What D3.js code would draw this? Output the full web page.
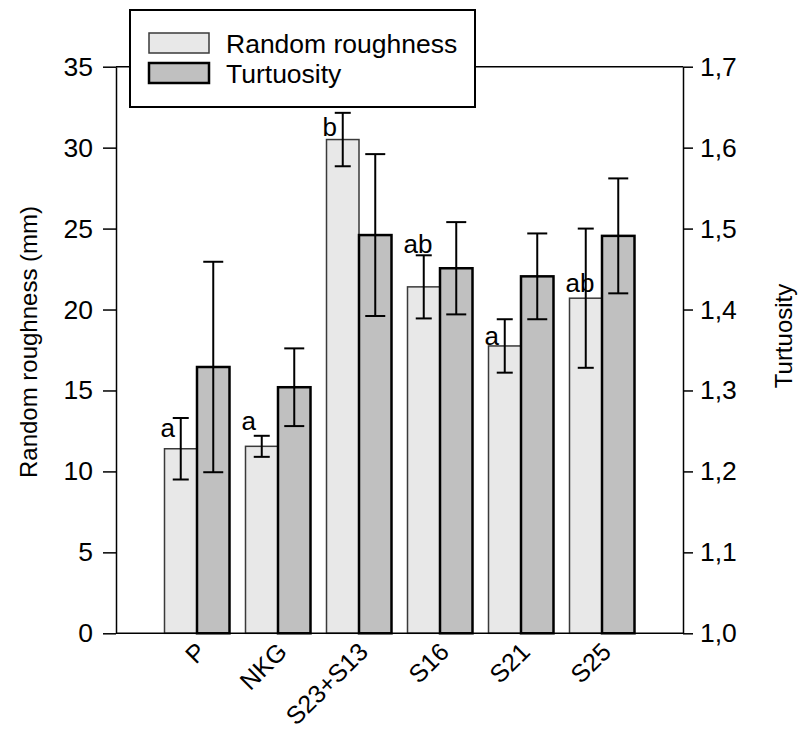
<!DOCTYPE html>
<html lang="en">
<head>
  <meta charset="UTF-8" />
  <title>Random roughness and turtuosity</title>
  <style>
    html, body { margin: 0; padding: 0; background: #fff; }
    svg { font-family: "Liberation Sans", Arial, sans-serif; display: block; }
  </style>
</head>
<body>
  <svg width="798" height="731"></svg>

  <script src="https://d3js.org/d3.v7.min.js"></script>
  <script>
    // values
    const categories = ["P", "NKG", "S23+S13", "S16", "S21", "S25"];
    const roughness = [11.4, 11.55, 30.5, 21.4, 17.75, 20.7];
    const roughnessErr = [1.9, 0.65, 1.65, 1.95, 1.65, 4.3];
    const tortuosity = [1.329, 1.304, 1.492, 1.451, 1.441, 1.491];
    const tortuosityErr = [0.13, 0.048, 0.1, 0.057, 0.053, 0.071];
    const letters = ["a", "a", "b", "ab", "a", "ab"];
    const letterAt = [12.1, 12.55, 30.7, 23.5, 17.8, 21.1];
    const leftTicks = [0, 5, 10, 15, 20, 25, 30, 35];
    const rightTicks = [1.0, 1.1, 1.2, 1.3, 1.4, 1.5, 1.6, 1.7];

    const svg = d3.select("svg");
    const mLeft = 116, mRight = 683, mTop = 66.7, mBottom = 633.3;
    const barW = 32.5;

    const x = d3.scalePoint().domain(categories).range([mLeft, mRight]).padding(1);
    const yL = d3.scaleLinear().domain([0, 35]).range([mBottom, mTop]);
    const yR = d3.scaleLinear().domain([1.0, 1.7]).range([mBottom, mTop]);

    const rows = categories.map((c, i) => ({
      c, r: roughness[i], re: roughnessErr[i], t: tortuosity[i], te: tortuosityErr[i],
      l: letters[i], la: letterAt[i]
    }));

    // frame line on top
    svg.append("line").attr("x1", mLeft).attr("x2", mRight).attr("y1", mTop).attr("y2", mTop)
      .attr("stroke", "#000").attr("stroke-width", 1.5);

    // light bars
    svg.selectAll(".barL").data(rows).join("rect")
      .attr("class", "barL")
      .attr("x", d => x(d.c) - barW)
      .attr("y", d => yL(d.r))
      .attr("width", barW)
      .attr("height", d => mBottom - yL(d.r))
      .attr("fill", "#e8e8e8")
      .attr("stroke", "#3a3a3a")
      .attr("stroke-width", 1.5);

    // dark bars
    svg.selectAll(".barD").data(rows).join("rect")
      .attr("class", "barD")
      .attr("x", d => x(d.c))
      .attr("y", d => yR(d.t))
      .attr("width", barW)
      .attr("height", d => mBottom - yR(d.t))
      .attr("fill", "#c0c0c0")
      .attr("stroke", "#000")
      .attr("stroke-width", 2.5);

    // error bars
    function errBars(cls, cx, lo, hi, cap) {
      const g = svg.selectAll("." + cls).data(rows).join("g").attr("class", cls)
        .attr("stroke", "#000").attr("stroke-width", 2);
      g.append("line").attr("x1", cx).attr("x2", cx).attr("y1", lo).attr("y2", hi);
      g.append("line").attr("x1", d => cx(d) - cap).attr("x2", d => cx(d) + cap).attr("y1", lo).attr("y2", lo);
      g.append("line").attr("x1", d => cx(d) - cap).attr("x2", d => cx(d) + cap).attr("y1", hi).attr("y2", hi);
    }
    errBars("errL", d => x(d.c) - barW / 2, d => yL(d.r - d.re), d => yL(d.r + d.re), 8);
    errBars("errD", d => x(d.c) + barW / 2, d => yR(d.t - d.te), d => yR(d.t + d.te), 10);

    // significance letters
    svg.selectAll(".letter").data(rows).join("text")
      .attr("class", "letter")
      .attr("x", d => x(d.c) - barW - 4)
      .attr("y", d => yL(d.la))
      .attr("font-size", 26)
      .text(d => d.l);

    // axes
    const axL = svg.append("g").attr("transform", `translate(${mLeft},0)`)
      .call(d3.axisLeft(yL).tickValues(leftTicks).tickSize(13).tickSizeOuter(0).tickPadding(10));
    const axR = svg.append("g").attr("transform", `translate(${mRight},0)`)
      .call(d3.axisRight(yR).tickValues(rightTicks).tickSize(10).tickSizeOuter(0).tickPadding(7)
        .tickFormat(d => d3.format(".1f")(d).replace(".", ",")));
    const axB = svg.append("g").attr("transform", `translate(0,${mBottom})`)
      .call(d3.axisBottom(x).tickSize(0).tickPadding(0));

    for (const ax of [axL, axR, axB]) {
      ax.selectAll("path, line").attr("stroke", "#000").attr("stroke-width", 1.5);
      ax.selectAll("text").attr("font-size", 26.5).attr("fill", "#000")
        .attr("font-family", "Liberation Sans, Arial, sans-serif");
    }
    axB.select(".domain").attr("d", `M${mLeft},0H${mRight}`);
    axB.selectAll("text")
      .attr("font-size", 25)
      .attr("text-anchor", "end")
      .attr("dy", 0)
      .attr("x", 0).attr("y", 0)
      .attr("transform", "translate(10,20) rotate(-45)");

    // axis titles
    svg.append("text")
      .attr("transform", `translate(37,342) rotate(-90)`)
      .attr("text-anchor", "middle")
      .attr("font-size", 24)
      .text("Random roughness (mm)");
    svg.append("text")
      .attr("transform", `translate(792,336) rotate(-90)`)
      .attr("text-anchor", "middle")
      .attr("font-size", 24)
      .text("Turtuosity");

    // legend
    const lg = svg.append("g");
    lg.append("rect").attr("x", 130).attr("y", 10).attr("width", 345).attr("height", 97)
      .attr("fill", "#fff").attr("stroke", "#000").attr("stroke-width", 2);
    lg.append("rect").attr("x", 149).attr("y", 33).attr("width", 60).attr("height", 20)
      .attr("fill", "#e8e8e8").attr("stroke", "#3a3a3a").attr("stroke-width", 1.5);
    lg.append("rect").attr("x", 149).attr("y", 63).attr("width", 60).attr("height", 20)
      .attr("fill", "#c0c0c0").attr("stroke", "#000").attr("stroke-width", 2.5);
    lg.append("text").attr("x", 226).attr("y", 53).attr("font-size", 26.5).text("Random roughness");
    lg.append("text").attr("x", 226).attr("y", 83).attr("font-size", 26.5).text("Turtuosity");
  </script>
</body>
</html>
